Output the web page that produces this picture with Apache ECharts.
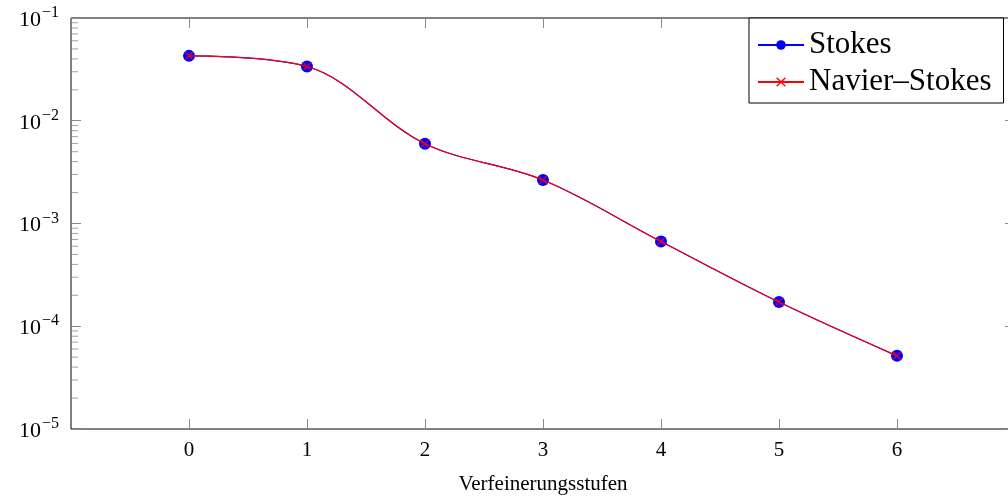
<!DOCTYPE html>
<html>
<head>
<meta charset="utf-8">
<script src="https://cdn.jsdelivr.net/npm/echarts@6/dist/echarts.min.js"></script>
<style>
html,body{margin:0;padding:0;background:#fff;}
#c{width:1008px;height:500px;}
</style>
</head>
<body>
<div id="c"></div>
<script>
var levels = [0, 1, 2, 3, 4, 5, 6];
var stokes = [0.0428, 0.0337, 0.00598, 0.00265, 0.000668, 0.000172, 0.0000515];
var navierStokes = [0.0428, 0.0337, 0.00598, 0.00265, 0.000668, 0.000172, 0.0000515];
var yMajor = [1e-5, 1e-4, 1e-3, 1e-2, 1e-1];
var xLabel = 'Verfeinerungsstufen';
var seriesNames = ['Stokes', 'Navier–Stokes'];
var xMin = -1, xMax = 7;

// minor log ticks 2..9 x 10^d
var yMinor = [];
for (var d = -5; d < -1; d++) {
  for (var m = 2; m <= 9; m++) yMinor.push(m * Math.pow(10, d));
}
function pairs(vals) { return levels.map(function (x, i) { return [x, vals[i]]; }); }

var FONT = 'Liberation Serif';
var tickGray = '#8a8a8a';
var crossPath = 'path://M0,1L1,0L5,4L9,0L10,1L6,5L10,9L9,10L5,6L1,10L0,9L4,5Z';

function yMajorAxis(pos) {
  return {
    type: 'log', logBase: 10, min: 1e-5, max: 1e-1, position: pos, offset: 0,
    axisLine: { show: false, onZero: false },
    splitLine: { show: false },
    minorTick: { show: false },
    axisTick: { show: true, inside: true, length: 10, lineStyle: { color: tickGray, width: 1 } },
    axisLabel: pos === 'left' ? {
      show: true, margin: 12,
      formatter: function (v) { return '{a|10}{s|−' + Math.round(-Math.log10(v)) + '}'; },
      rich: {
        a: { fontFamily: FONT, fontSize: 22, color: '#000', lineHeight: 26, verticalAlign: 'bottom' },
        s: { fontFamily: FONT, fontSize: 16, color: '#000', lineHeight: 16, verticalAlign: 'top', padding: [0, 0, 0, 1] }
      }
    } : { show: false }
  };
}

function xAxisDef(pos, bottom) {
  return {
    type: 'value', min: xMin, max: xMax, interval: 1, position: pos, offset: 0,
    axisLine: { show: false, onZero: false },
    splitLine: { show: false },
    axisTick: { show: true, inside: true, length: 10, customValues: levels,
                lineStyle: { color: tickGray, width: 1 } },
    axisLabel: bottom ? { show: true, customValues: levels, margin: 11, fontFamily: FONT, fontSize: 21, color: '#000' } : { show: false },
    name: bottom ? xLabel : '',
    nameLocation: 'middle', nameGap: 45,
    nameTextStyle: { fontFamily: FONT, fontSize: 21, color: '#000' }
  };
}

function minorTickSeries(xPos, dir) {
  return {
    type: 'scatter', silent: true, clip: false, z: 1,
    data: yMinor.map(function (v) { return [xPos, v]; }),
    symbol: 'rect', symbolSize: [7, 1], symbolOffset: [dir * 3.5, 0],
    itemStyle: { color: tickGray },
    emphasis: { disabled: true },
    tooltip: { show: false }
  };
}

var chart = echarts.init(document.getElementById('c'), null, { renderer: 'canvas' });
chart.setOption({
  animation: false,
  backgroundColor: '#fff',
  grid: { left: 71, top: 18, right: -7, bottom: 71, outerBoundsMode: 'none', containLabel: false,
          show: true, borderColor: '#000', borderWidth: 1, backgroundColor: 'transparent' },
  xAxis: [xAxisDef('bottom', true), xAxisDef('top', false)],
  yAxis: [yMajorAxis('left'), yMajorAxis('right')],
  legend: {
    orient: 'vertical', left: 749, top: 18,
    padding: [10, 12, 4, 8],
    itemGap: 3,
    itemWidth: 46, itemHeight: 12,
    backgroundColor: '#fff', borderColor: '#000', borderWidth: 1,
    textStyle: { fontFamily: FONT, fontSize: 31, color: '#000', lineHeight: 34 },
    data: seriesNames
  },
  series: [
    minorTickSeries(xMin, 1),
    minorTickSeries(xMax, -1),
    {
      name: seriesNames[0], type: 'line', data: pairs(stokes), smooth: 0.35,
      xAxisIndex: 0, yAxisIndex: 0, z: 3,
      symbol: 'circle', symbolSize: 12, showSymbol: true,
      lineStyle: { color: '#0000ff', width: 1.2 },
      itemStyle: { color: '#0000ff' }
    },
    {
      name: seriesNames[1], type: 'line', data: pairs(navierStokes), smooth: 0.35,
      xAxisIndex: 0, yAxisIndex: 0, z: 4,
      symbol: crossPath, symbolSize: 8, showSymbol: true,
      lineStyle: { color: '#ff0000', width: 1.2 },
      itemStyle: { color: '#ff0000' }
    }
  ]
});
</script>
</body>
</html>
